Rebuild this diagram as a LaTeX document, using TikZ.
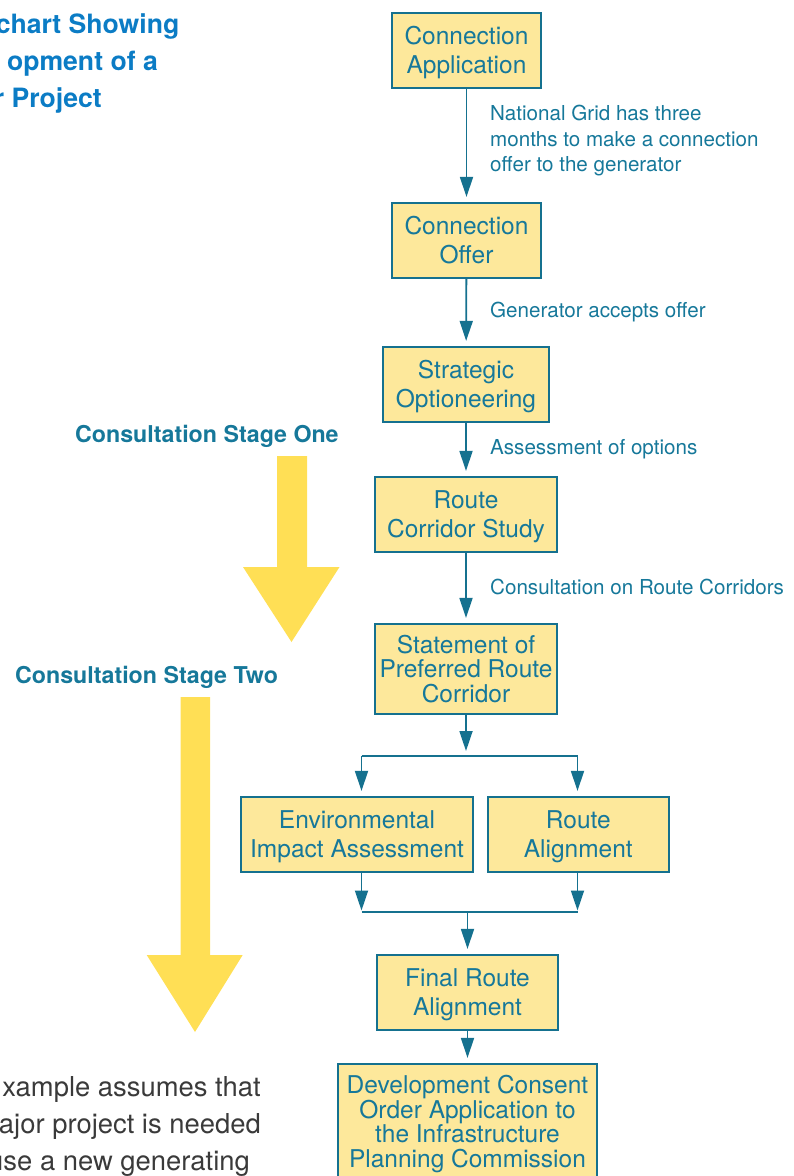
\documentclass[tikz,border=0pt]{standalone}
\usepackage{fontspec}
\setmainfont{TeX Gyre Heros}
\usetikzlibrary{arrows.meta}
\definecolor{tealline}{HTML}{15718F}
\definecolor{tealtext}{HTML}{16789A}
\definecolor{boxfill}{HTML}{FDE89B}
\definecolor{bigyellow}{HTML}{FFDF55}
\definecolor{titleblue}{HTML}{0B7CC5}
\definecolor{bodygray}{HTML}{3A3A3A}
\newcommand\toplift{\rule{0pt}{22.5pt}}
\tikzset{
  stepbox/.style={draw=tealline, fill=boxfill, line width=2.2pt, text=tealtext,
    font=\fontsize{24.5}{29}\selectfont, align=center, inner sep=0pt},
  tightbox/.style={stepbox, font=\fontsize{24.5}{24.6}\selectfont},
  lbl/.style={text=tealtext, font=\fontsize{20.6}{25.5}\selectfont, align=left, inner sep=0pt, anchor=west},
  stage/.style={text=tealtext, font=\fontsize{23.2}{27}\bfseries\selectfont, inner sep=0pt, anchor=base west},
  titletxt/.style={text=titleblue, font=\fontsize{26.6}{37}\bfseries\selectfont, inner sep=0pt, anchor=base east},
  bodytxt/.style={text=bodygray, font=\fontsize{27.4}{37}\selectfont, inner sep=0pt, anchor=base east},
  conn/.style={draw=tealline, line width=1.8pt, -{Triangle[length=20pt,width=13pt]}, shorten >=5pt},
  connm/.style={draw=tealline, line width=1.8pt, -{Triangle[length=20pt,width=13pt]}, shorten >=1.5pt},
  plain/.style={draw=tealline, line width=1.8pt},
  bigarrow/.style={fill=bigyellow, draw=none}
}
\begin{document}
\begin{tikzpicture}[x=1pt,y=-1pt]
\useasboundingbox (0,0) rectangle (793,1176);
\clip (0,0) rectangle (793,1176);

% title (cut by the left edge)
\node[titletxt] (t1) at (179.5,33) {chart Showing};
\node[titletxt] (t2) at (158,70.5) {opment of a};
\node[titletxt] (t3) at (102,107.5) {r Project};

% bottom-left text (cut by the left edge)
\node[bodytxt] (p1) at (261,1096) {xample assumes that};
\node[bodytxt] (p2) at (261,1133.3) {ajor project is needed};
\node[bodytxt] (p3) at (250,1170) {use a new generating};

% big yellow arrows
\path[bigarrow] (277,456) -- (307,456) -- (307,567) -- (339.5,567) -- (291.5,642) -- (243,567) -- (277,567) -- cycle;
\path[bigarrow] (180.5,697) -- (210,697) -- (210,955) -- (242.7,955) -- (195,1032) -- (146.7,955) -- (180.5,955) -- cycle;

\node[stage] (s1) at (75,442) {Consultation Stage One};
\node[stage] (s2) at (15,683) {Consultation Stage Two};

% boxes
\node[stepbox, minimum width=149pt, minimum height=75pt] (b1) at (466.5,50.5) {\toplift Connection\\Application};
\node[stepbox, minimum width=149pt, minimum height=75pt] (b2) at (466.5,240.5) {Connection\\Offer};
\node[stepbox, minimum width=166pt, minimum height=75pt] (b3) at (466,384.5) {\toplift Strategic\\Optioneering};
\node[stepbox, minimum width=182pt, minimum height=75pt] (b4) at (466,514.5) {\toplift Route\\Corridor Study};
\node[tightbox, minimum width=182pt, minimum height=90pt] (b5) at (466,669) {Statement of\\Preferred Route\\Corridor};
\node[stepbox, minimum width=232pt, minimum height=75pt] (b6) at (357,834.5) {\toplift Environmental\\Impact Assessment};
\node[stepbox, minimum width=181pt, minimum height=75pt] (b7) at (578.3,834.5) {\toplift Route\\Alignment};
\node[stepbox, minimum width=181pt, minimum height=75pt] (b8) at (467.5,992.5) {\toplift Final Route\\Alignment};
\node[tightbox, minimum width=259pt, minimum height=120pt] (b9) at (467.5,1124) {Development Consent\\Order Application to\\the Infrastructure\\Planning Commission};

% connector labels
\node[lbl] (l1) at (490,140.8) {National Grid has three\\months to make a connection\\offer to the generator};
\node[lbl] (l2) at (490,312.5) {Generator accepts offer};
\node[lbl] (l3) at (490,449.5) {Assessment of options};
\node[lbl] (l4) at (490,586.5) {Consultation on Route Corridors};

% connectors
\draw[conn] (b1) -- (b2);
\draw[conn] (b2) -- (b3);
\draw[conn] (b3) -- (b4);
\draw[conn] (b4) -- (b5);

\coordinate (split) at (466,756);
\coordinate (sl) at (361.5,756);
\coordinate (sr) at (577.5,756);
\draw[conn] (b5) -- (split);
\draw[plain] (sl) -- (sr);
\draw[conn] (sl) -- (sl |- b6.north);
\draw[conn] (sr) -- (sr |- b7.north);

\coordinate (ml) at (361.5,912);
\coordinate (mr) at (577.5,912);
\draw[connm] (ml |- b6.south) -- (ml);
\draw[connm] (mr |- b7.south) -- (mr);
\draw[plain] (ml) -- (mr);
\draw[conn] (b8.north |- ml) -- (b8);
\draw[conn] (b8) -- (b9);
\end{tikzpicture}
\end{document}
